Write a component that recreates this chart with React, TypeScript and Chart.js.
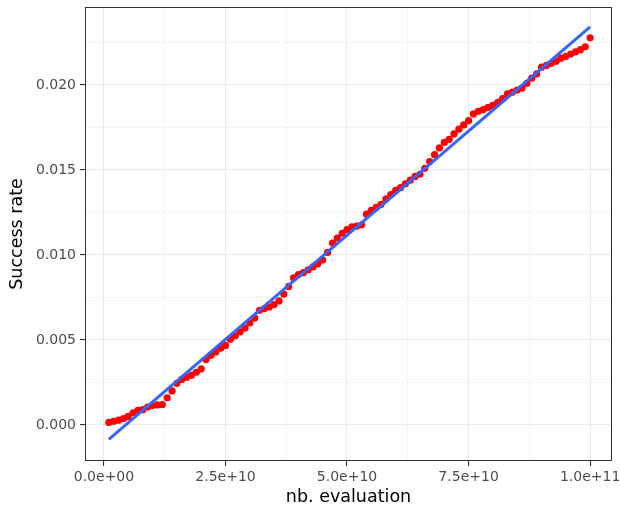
import React, { useEffect, useRef } from "react";
import { Chart, registerables } from "chart.js";
Chart.register(...registerables);

// nb. evaluation, in units of 1e9
const evaluationsBillions = [
  1, 2, 3, 4, 5, 6, 7, 8, 9, 10, 11, 12, 13, 14, 15, 16, 17, 18, 19, 20,
  21, 22, 23, 24, 25, 26, 27, 28, 29, 30, 31, 32, 33, 34, 35, 36, 37, 38, 39, 40,
  41, 42, 43, 44, 45, 46, 47, 48, 49, 50, 51, 52, 53, 54, 55, 56, 57, 58, 59, 60,
  61, 62, 63, 64, 65, 66, 67, 68, 69, 70, 71, 72, 73, 74, 75, 76, 77, 78, 79, 80,
  81, 82, 83, 84, 85, 86, 87, 88, 89, 90, 91, 92, 93, 94, 95, 96, 97, 98, 99, 100,
];

const successRate = [
  0.00015, 0.00022, 0.00028, 0.00038, 0.0005, 0.00072, 0.00086, 0.0009, 0.00105, 0.00115,
  0.00118, 0.0012, 0.0016, 0.002, 0.00245, 0.00268, 0.0028, 0.00292, 0.0031, 0.0033,
  0.00385, 0.0041, 0.0043, 0.00452, 0.00468, 0.00505, 0.00525, 0.00548, 0.0057, 0.006,
  0.0063, 0.00675, 0.00685, 0.00694, 0.00708, 0.0073, 0.0077, 0.00815, 0.00865, 0.00885,
  0.00896, 0.00912, 0.0093, 0.00948, 0.0097, 0.01015, 0.0107, 0.011, 0.01128, 0.0115,
  0.01165, 0.0117, 0.01178, 0.0124, 0.01262, 0.0128, 0.01298, 0.0133, 0.01356, 0.0138,
  0.01396, 0.01418, 0.0144, 0.01462, 0.01475, 0.0151, 0.0155, 0.0159, 0.0163, 0.01662,
  0.0168, 0.01712, 0.0174, 0.01765, 0.0179, 0.0183, 0.01845, 0.01855, 0.01868, 0.0188,
  0.01898, 0.0192, 0.01948, 0.01958, 0.0197, 0.01982, 0.0201, 0.0204, 0.02065, 0.02105,
  0.02115, 0.02128, 0.0214, 0.02158, 0.02168, 0.02182, 0.02195, 0.02208, 0.02225, 0.02278,
];

const xMajorTicks = [0, 2.5e10, 5e10, 7.5e10, 1e11];
const xMajorLabels = ["0.0e+00", "2.5e+10", "5.0e+10", "7.5e+10", "1.0e+11"];
const xMinorTicks = [1.25e10, 3.75e10, 6.25e10, 8.75e10];
const yMajorTicks = [0, 0.005, 0.01, 0.015, 0.02];
const yMajorLabels = ["0.000", "0.005", "0.010", "0.015", "0.020"];
const yMinorTicks = [0.0025, 0.0075, 0.0125, 0.0175, 0.0225];

const xTitle = "nb. evaluation";
const yTitle = "Success rate";

const FONT = "'DejaVu Sans', sans-serif";

function linearFit(xs: number[], ys: number[]) {
  const n = xs.length;
  const mx = xs.reduce((a, b) => a + b, 0) / n;
  const my = ys.reduce((a, b) => a + b, 0) / n;
  let sxy = 0;
  let sxx = 0;
  for (let i = 0; i < n; i++) {
    sxy += (xs[i] - mx) * (ys[i] - my);
    sxx += (xs[i] - mx) * (xs[i] - mx);
  }
  const slope = sxy / sxx;
  return { slope, intercept: my - slope * mx };
}

const panelPlugin = {
  id: "panelBorder",
  beforeDraw(chart: any) {
    const { ctx } = chart;
    ctx.save();
    ctx.fillStyle = "#FFFFFF";
    ctx.fillRect(0, 0, chart.width, chart.height);
    ctx.restore();
  },
  afterDraw(chart: any) {
    const { ctx, chartArea } = chart;
    ctx.save();
    ctx.strokeStyle = "#333333";
    ctx.lineWidth = 1;
    ctx.strokeRect(
      Math.round(chartArea.left) + 0.5,
      Math.round(chartArea.top) + 0.5,
      Math.round(chartArea.right - chartArea.left) - 1,
      Math.round(chartArea.bottom - chartArea.top) - 1
    );
    ctx.restore();
  },
};

export default function App() {
  const canvasRef = useRef<HTMLCanvasElement | null>(null);

  useEffect(() => {
    if (!canvasRef.current) return;
    const xs = evaluationsBillions.map((v) => v * 1e9);
    const points = xs.map((x, i) => ({ x, y: successRate[i] }));
    const fit = linearFit(xs, successRate);
    const xMin = xs[0];
    const xMax = xs[xs.length - 1];
    const fitLine = [
      { x: xMin, y: fit.intercept + fit.slope * xMin },
      { x: xMax, y: fit.intercept + fit.slope * xMax },
    ];

    const isMajor = (arr: number[], v: number) =>
      arr.some((m) => Math.abs(m - v) < 1e-12 * Math.max(1, Math.abs(m)));

    const chart = new Chart(canvasRef.current, {
      type: "scatter",
      data: {
        datasets: [
          {
            type: "line",
            data: fitLine,
            borderColor: "#3366FF",
            borderWidth: 3,
            pointRadius: 0,
            showLine: true,
            fill: false,
            order: 0,
          } as any,
          {
            data: points,
            backgroundColor: "#FF0000",
            borderWidth: 0,
            pointRadius: 3.6,
            order: 1,
          },
        ],
      },
      plugins: [panelPlugin],
      options: {
        responsive: false,
        animation: false,
        events: [],
        layout: { padding: { left: 0, right: 8, top: 7, bottom: 0 } },
        plugins: { legend: { display: false }, tooltip: { enabled: false } },
        scales: {
          x: {
            type: "linear",
            min: -3.9e9,
            max: 1.045e11,
            afterBuildTicks: (scale: any) => {
              scale.ticks = [...xMajorTicks, ...xMinorTicks]
                .sort((a, b) => a - b)
                .map((v) => ({ value: v }));
            },
            afterFit: (scale: any) => {
              scale.height = 50;
              scale.paddingLeft = 0;
              scale.paddingRight = 0;
            },
            ticks: {
              autoSkip: false,
              maxRotation: 0,
              color: "#4D4D4D",
              padding: 3,
              font: { family: FONT, size: 14 },
              callback: (v: any) => {
                const i = xMajorTicks.findIndex((m) => Math.abs(m - v) < 1);
                return i >= 0 ? xMajorLabels[i] : "";
              },
            },
            grid: {
              drawTicks: true,
              tickLength: 5,
              color: "#EBEBEB",
              lineWidth: (c: any) => (isMajor(xMajorTicks, c.tick?.value) ? 1.1 : 0.55),
              tickColor: (c: any) =>
                isMajor(xMajorTicks, c.tick?.value) ? "#333333" : "rgba(0,0,0,0)",
              tickWidth: 1.1,
            },
            border: { display: false },
            title: {
              display: true,
              text: xTitle,
              color: "#000000",
              font: { family: FONT, size: 17.5 },
              padding: { top: 0, bottom: 3 },
            },
          },
          y: {
            type: "linear",
            min: -0.00212,
            max: 0.02459,
            afterBuildTicks: (scale: any) => {
              scale.ticks = [...yMajorTicks, ...yMinorTicks]
                .sort((a, b) => a - b)
                .map((v) => ({ value: v }));
            },
            afterFit: (scale: any) => {
              scale.width = 85;
              scale.paddingTop = 0;
              scale.paddingBottom = 0;
            },
            ticks: {
              autoSkip: false,
              color: "#4D4D4D",
              padding: 4,
              font: { family: FONT, size: 14 },
              callback: (v: any) => {
                const i = yMajorTicks.findIndex((m) => Math.abs(m - v) < 1e-9);
                return i >= 0 ? yMajorLabels[i] : "";
              },
            },
            grid: {
              drawTicks: true,
              tickLength: 5,
              color: "#EBEBEB",
              lineWidth: (c: any) => (isMajor(yMajorTicks, c.tick?.value) ? 1.1 : 0.55),
              tickColor: (c: any) =>
                isMajor(yMajorTicks, c.tick?.value) ? "#333333" : "rgba(0,0,0,0)",
              tickWidth: 1.1,
            },
            border: { display: false },
            title: {
              display: true,
              text: yTitle,
              color: "#000000",
              font: { family: FONT, size: 17.5 },
              padding: { top: 7, bottom: 0 },
            },
          },
        },
      },
    });
    return () => chart.destroy();
  }, []);

  return (
    <div style={{ position: "absolute", left: 0, top: 0, width: 620, height: 511, background: "#fff" }}>
      <canvas ref={canvasRef} width={620} height={511} style={{ display: "block" }} />
    </div>
  );
}
